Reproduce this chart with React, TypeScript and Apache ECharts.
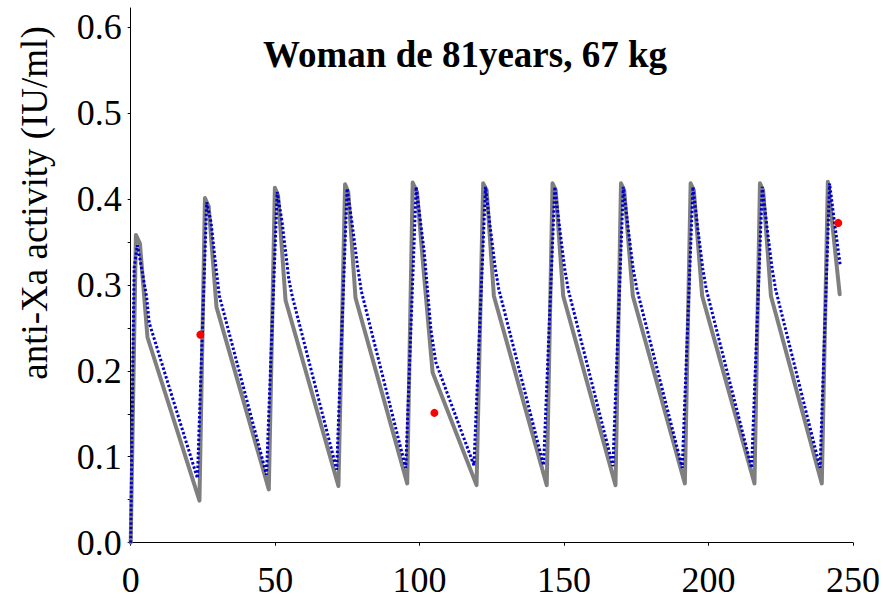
import React, { useEffect, useRef } from "react";
import * as echarts from "echarts";

const chartTitle = "Woman de 81years, 67 kg";
const yAxisTitle = "anti-Xa activity (IU/ml)";

// Solid grey model curve [time (h), anti-Xa (IU/ml)]
const greyCurve: [number, number][] = [
  [0, 0], [1.8, 0.358], [3.2, 0.348], [5.8, 0.239],
  [23.8, 0.049], [25.7, 0.401], [27.0, 0.391], [29.7, 0.274],
  [47.8, 0.062], [49.9, 0.413], [51.0, 0.404], [53.6, 0.282],
  [71.9, 0.066], [74.2, 0.417], [75.3, 0.408], [77.8, 0.285],
  [95.7, 0.069], [97.6, 0.419], [99.1, 0.408], [101.3, 0.32], [104.5, 0.198],
  [119.7, 0.067], [122.0, 0.418], [123.2, 0.41], [125.7, 0.287],
  [144.0, 0.067], [146.0, 0.418], [147.1, 0.41], [149.7, 0.287],
  [167.8, 0.067], [169.7, 0.418], [170.8, 0.41], [173.8, 0.287],
  [191.8, 0.069], [193.8, 0.418], [194.9, 0.41], [197.8, 0.287],
  [215.9, 0.069], [217.8, 0.418], [218.9, 0.41], [221.6, 0.287],
  [239.2, 0.069], [241.3, 0.42], [245.4, 0.289],
];

// Blue dotted curve
const blueCurve: [number, number][] = [
  [0, 0], [0.7, 0.2], [1.2, 0.32], [2.3, 0.346], [3.2, 0.33], [4.1, 0.313], [5.5, 0.286], [6.4, 0.256],
  [23.1, 0.075], [26.3, 0.396], [27.8, 0.373], [29.3, 0.326], [30.7, 0.287],
  [47.0, 0.079], [50.7, 0.408], [52.4, 0.373], [54.7, 0.307], [55.9, 0.287],
  [71.3, 0.085], [74.9, 0.412], [76.6, 0.372], [78.5, 0.322], [79.8, 0.293],
  [95.2, 0.087], [98.8, 0.414], [101.6, 0.338], [103.9, 0.248], [105.6, 0.21],
  [118.8, 0.09], [122.8, 0.414], [124.5, 0.365], [126.2, 0.319], [127.4, 0.295],
  [142.9, 0.09], [146.8, 0.414], [148.5, 0.365], [150.2, 0.319], [151.4, 0.295],
  [166.9, 0.089], [170.5, 0.414], [172.2, 0.365], [173.9, 0.319], [175.2, 0.295],
  [190.9, 0.087], [194.6, 0.414], [196.3, 0.365], [198.0, 0.319], [199.2, 0.295],
  [214.9, 0.087], [218.6, 0.414], [220.3, 0.365], [222.0, 0.319], [223.2, 0.295],
  [238.6, 0.087], [241.9, 0.418], [243.5, 0.375], [245.6, 0.322],
];

// Measured points (red)
const measured: [number, number][] = [
  [24.1, 0.242],
  [105.1, 0.151],
  [244.9, 0.372],
];

const yTickValues = [0, 0.05, 0.1, 0.15, 0.2, 0.25, 0.3, 0.35, 0.4, 0.5, 0.6];
const yLabelValues = [0, 0.1, 0.2, 0.3, 0.4, 0.5, 0.6];

const FONT = '"Liberation Serif", "Times New Roman", serif';

export default function App() {
  const ref = useRef<HTMLDivElement>(null);
  useEffect(() => {
    document.body.style.margin = "0";
    if (!ref.current) return;
    const chart = echarts.init(ref.current, undefined, { renderer: "svg" });
    chart.setOption({
      animation: false,
      backgroundColor: "#ffffff",
      grid: { left: 130.7, right: 24.3, top: 8, bottom: 57.3 },
      xAxis: {
        type: "value",
        min: 0,
        max: 250,
        interval: 50,
        splitLine: { show: false },
        axisLine: { show: true, onZero: false, lineStyle: { color: "#000", width: 1 } },
        axisTick: { show: true, length: 3, lineStyle: { color: "#000" } },
        axisLabel: { fontFamily: FONT, fontSize: 36, color: "#000", margin: 19 },
      },
      yAxis: {
        type: "value",
        min: 0,
        max: 0.622,
        splitLine: { show: false },
        axisLine: { show: true, lineStyle: { color: "#000", width: 1 } },
        axisTick: { show: true, length: 3, customValues: yTickValues, lineStyle: { color: "#000" } },
        axisLabel: {
          fontFamily: FONT,
          fontSize: 36,
          color: "#000",
          margin: 9,
          customValues: yLabelValues,
          formatter: (v: number) => v.toFixed(1),
        },
      },
      graphic: [
        {
          type: "text",
          x: 34,
          y: 203,
          rotation: Math.PI / 2,
          style: {
            text: yAxisTitle,
            fontFamily: FONT,
            fontSize: 37,
            fill: "#000",
            align: "center",
            verticalAlign: "middle",
          },
        },
        {
          type: "text",
          x: 465,
          y: 54,
          style: {
            text: chartTitle,
            fontFamily: FONT,
            fontSize: 37,
            fontWeight: "bold",
            fill: "#000",
            align: "center",
            verticalAlign: "middle",
          },
        },
      ],
      series: [
        {
          type: "line",
          data: greyCurve,
          showSymbol: false,
          lineStyle: { color: "#7f7f7f", width: 4, join: "round", cap: "round" },
          z: 2,
        },
        {
          type: "line",
          data: blueCurve,
          showSymbol: false,
          lineStyle: { color: "#0000cc", width: 3, type: [2.5, 2] },
          z: 3,
        },
        {
          type: "scatter",
          data: measured,
          symbol: "circle",
          symbolSize: 8,
          itemStyle: { color: "#ff0000", opacity: 1 },
          z: 4,
        },
      ],
    });
    return () => chart.dispose();
  }, []);
  return <div ref={ref} style={{ width: 883, height: 600 }} />;
}
